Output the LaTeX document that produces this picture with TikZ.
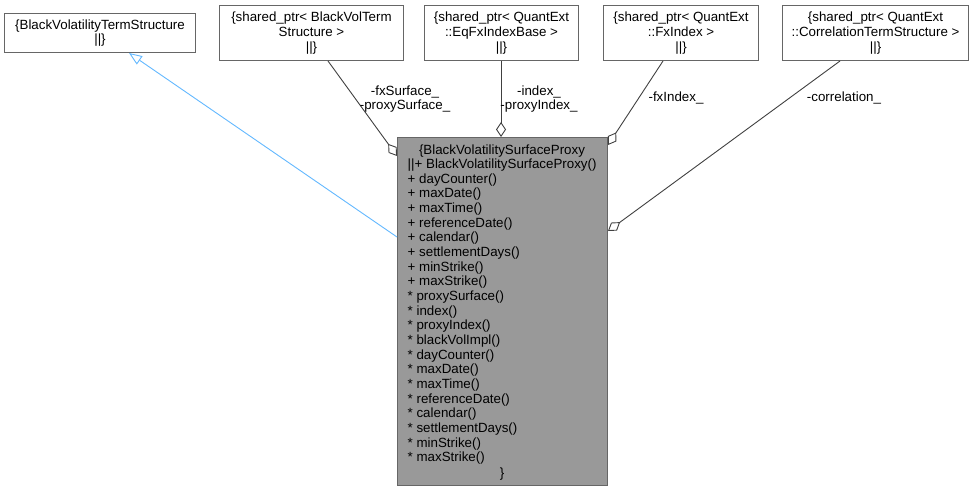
\documentclass[tikz,border=0pt]{standalone}
\usepackage{fontspec}
\setmainfont{Liberation Sans}
\usetikzlibrary{arrows.meta,calc}
\definecolor{boxborder}{HTML}{666666}
\definecolor{mainfill}{HTML}{999999}
\definecolor{edgecol}{HTML}{404040}
\definecolor{inhcol}{HTML}{63B8FF}
\begin{document}
\begin{tikzpicture}[x=1pt,y=-1pt,font=\fontsize{13.33}{14.6}\selectfont,
  classbox/.style={draw=boxborder,fill=white,line width=1pt,inner sep=0pt,align=center,anchor=north west},
  mainbox/.style={classbox,fill=mainfill},
  assoc/.style={draw=edgecol,line width=0.9pt,-{Diamond[open,length=15pt,width=10pt,line width=0.9pt]}},
  inherit/.style={draw=inhcol,line width=0.9pt,-{Triangle[open,length=13pt,width=10pt,line width=0.9pt]}},
  elabel/.style={align=center,inner sep=0pt,text=black},
  mline/.style={anchor=base west,inner sep=0pt},
  cline/.style={anchor=base,inner sep=0pt}]
\useasboundingbox (0,0) rectangle (974,491);

\node[classbox,minimum width=191pt,minimum height=39pt] (bvts) at (4,13) {\{BlackVolatilityTermStructure\\||\}};
\node[classbox,minimum width=184pt,minimum height=55pt] (bvtsp) at (219,5) {\{shared\_ptr< BlackVolTerm\\Structure >\\||\}};
\node[classbox,minimum width=154pt,minimum height=55pt] (eqfx) at (424,5) {\{shared\_ptr< QuantExt\\::EqFxIndexBase >\\||\}};
\node[classbox,minimum width=155pt,minimum height=55pt] (fxi) at (603,5) {\{shared\_ptr< QuantExt\\::FxIndex >\\||\}};
\node[classbox,minimum width=186pt,minimum height=55pt] (corr) at (782,5) {\{shared\_ptr< QuantExt\\::CorrelationTermStructure >\\||\}};
\node[mainbox,minimum width=210pt,minimum height=348pt] (main) at (397,137) {};

\node[cline] (l0) at (502,154) {\{BlackVolatilitySurfaceProxy};
\foreach \t [count=\i] in {%
  ||+ BlackVolatilitySurfaceProxy(),
  + dayCounter(), + maxDate(), + maxTime(), + referenceDate(), + calendar(),
  + settlementDays(), + minStrike(), + maxStrike(),
  * proxySurface(), * index(), * proxyIndex(), * blackVolImpl(), * dayCounter(),
  * maxDate(), * maxTime(), * referenceDate(), * calendar(), * settlementDays(),
  * minStrike(), * maxStrike()}{
  \node[mline] (l\i) at (407.5,{154+14.65*\i}) {\t};
}
\node[cline] (lend) at (502,{155+14.65*22}) {\}};

\draw[inherit] ($(main.north west)+(0,100)$) -- ($(bvts.south west)+(125,0)$);
\draw[assoc] ($(bvtsp.south west)+(109,0)$) -- ($(main.north west)+(0,19)$);
\draw[assoc] ($(eqfx.south west)+(77,0)$) -- ($(main.north west)+(104,0)$);
\draw[assoc] ($(fxi.south west)+(60,0)$) -- ($(main.north east)+(0,8)$);
\draw[assoc] ($(corr.south west)+(58,0)$) -- ($(main.north east)+(0,94)$);

\node[elabel] (lab1) at (405,99) {-fxSurface\_\\-proxySurface\_};
\node[elabel] (lab2) at (539,99) {-index\_\\-proxyIndex\_};
\node[elabel] (lab3) at (676,98) {-fxIndex\_};
\node[elabel] (lab4) at (844,98) {-correlation\_};
\end{tikzpicture}
\end{document}
